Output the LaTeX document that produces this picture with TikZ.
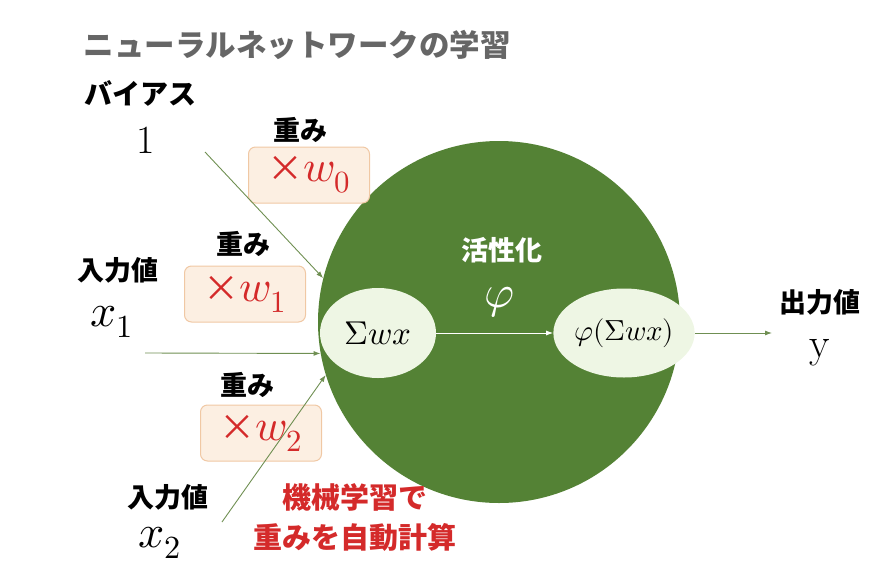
\documentclass[tikz,border=0pt]{standalone}
\usepackage{fontspec}
\usepackage{unicode-math}
\newfontfamily\jp{Noto Sans CJK JP}
\usetikzlibrary{arrows.meta,shapes.geometric}
\definecolor{neuron}{HTML}{548235}
\definecolor{cell}{HTML}{EEF6E4}
\definecolor{wfill}{HTML}{FCEFE2}
\definecolor{wedge}{HTML}{F0C8A4}
\definecolor{wred}{HTML}{D42A2A}
\definecolor{wire}{HTML}{6F8F52}
\definecolor{heading}{HTML}{666666}
\newcommand{\wmul}[1]{{\fontsize{36}{36}\selectfont\jp ×}$w_{#1}$}

\begin{document}
\begin{tikzpicture}[x=1pt,y=-1pt,
  jp/.style={font=\fontsize{#1}{#1}\selectfont\jp\bfseries,inner sep=0pt},
  big/.style={font=\fontsize{#1}{#1}\selectfont,inner sep=0pt},
  wbox/.style={draw=wedge,fill=wfill,rounded corners=7pt,line width=1pt,
    minimum width=121pt,minimum height=56pt,text=wred,
    font=\fontsize{44}{44}\selectfont},
  cellnode/.style={ellipse,fill=cell,inner sep=0pt},
  a/.style={-{Latex[length=7pt,width=5pt]},wire,line width=0.9pt}
]
\useasboundingbox (0,0) rectangle (884,584);

% the neuron
\node[circle,fill=neuron,minimum size=362pt] (neuron) at (499,322) {};
\node[jp=27,text=white] (act) at (502,250) {活性化};
\node[big=46,text=white] (phi) at (500,302) {$\varphi$};
\node[cellnode,minimum width=116pt,minimum height=90pt,
  font=\fontsize{33}{33}\selectfont] (sum) at (378,333) {$\Sigma wx$};
\node[cellnode,minimum width=113pt,minimum height=89pt,
  font=\fontsize{29}{29}\selectfont] (out) at (624,333) {$\varphi(\Sigma wx)$};

% labels
\node[jp=30.5,text=heading] (title) at (297,45) {ニューラルネットワークの学習};
\node[jp=28,anchor=west] (bias) at (84,93) {バイアス};
\node[big=40] (one) at (146,140) {1};
\node[jp=27] (wl0) at (300,130) {重み};
\node[wbox] (w0) at (309,175) {\wmul{0}};
\node[jp=27] (il1) at (118,270) {入力値};
\node[big=46] (x1) at (112,322) {$x_1$};
\node[jp=27] (wl1) at (243,244) {重み};
\node[wbox] (w1) at (245,294) {\wmul{1}};
\node[jp=27] (wl2) at (247,385) {重み};
\node[wbox] (w2) at (261,433) {\wmul{2}};
\node[jp=27] (il2) at (168,497) {入力値};
\node[big=46] (x2) at (160,543) {$x_2$};
\node[jp=27] (ol) at (820,302) {出力値};
\node[big=42] (y) at (820,353) {y};
\node[jp=29,text=wred,align=center,font=\fontsize{29}{40}\selectfont\jp\bfseries]
  (note) at (355,518) {機械学習で\\重みを自動計算};

% connections
\coordinate (b0) at (205,152);
\coordinate (in1) at (145,353);
\coordinate (in2) at (222,522);
\coordinate (yout) at (772,333);
\draw[a] (b0) -- (neuron.166);
\draw[a] (in1) -- (neuron.190);
\draw[a] (in2) -- (neuron.197);
\draw[a,white] (sum) -- (out);
\draw[a] (out) -- (yout);
\end{tikzpicture}
\end{document}
